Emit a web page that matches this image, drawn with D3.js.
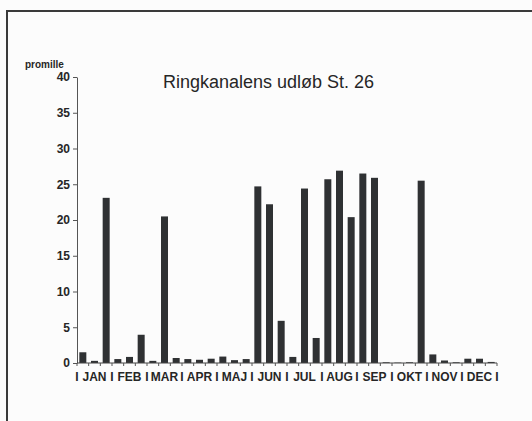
<!DOCTYPE html>
<html>
<head>
<meta charset="utf-8">
<script src="https://cdn.jsdelivr.net/npm/d3@7"></script>
<style>
	html, body {margin: 0; padding: 0; background: #fcfcfc;}
	svg {display: block;}
	text {font-family: "Liberation Sans", Arial, Helvetica, sans-serif; fill: #262626;}
</style>
</head>
<body>
<svg id="chart" width="532" height="421"></svg>
<script>
// three samples per month
const months = ['JAN', 'FEB', 'MAR', 'APR', 'MAJ', 'JUN', 'JUL', 'AUG', 'SEP', 'OKT', 'NOV', 'DEC'];
const salinity = [
	1.5, 0.3, 23.1,
	0.55, 0.85, 3.95,
	0.3, 20.5, 0.7,
	0.55, 0.45, 0.6,
	0.9, 0.4, 0.55,
	24.7, 22.2, 5.9,
	0.85, 24.4, 3.5,
	25.7, 26.9, 20.4,
	26.5, 25.9, 0.1,
	0.05, 0.1, 25.5,
	1.2, 0.35, 0.1,
	0.6, 0.6, 0.15
];
const yTicks = [0, 5, 10, 15, 20, 25, 30, 35, 40];
const title = 'Ringkanalens udløb St. 26';
const unit = 'promille';

const svg = d3.select('#chart');
const plot = {left: 77, right: 497, top: 77, bottom: 363};

// scanned page frame
svg.append('path')
	.attr('d', 'M7,421V11H532')
	.attr('fill', 'none')
	.attr('stroke', '#3a3a3a')
	.attr('stroke-width', 2);

const x = d3.scaleBand()
	.domain(d3.range(salinity.length))
	.range([plot.left, plot.right])
	.paddingInner(0.4)
	.paddingOuter(0.2);

const xMonth = d3.scaleBand()
	.domain(months)
	.range([plot.left, plot.right]);

const y = d3.scaleLinear()
	.domain([0, 40])
	.range([plot.bottom, plot.top]);

// y axis
const yAxis = svg.append('g')
	.attr('transform', `translate(${plot.left},0)`)
	.call(d3.axisLeft(y).tickValues(yTicks).tickSize(4).tickSizeOuter(0).tickPadding(3));
yAxis.select('.domain').attr('stroke', '#555');
yAxis.selectAll('.tick line').attr('stroke', '#555');
yAxis.selectAll('.tick text')
	.attr('font-size', 12)
	.attr('font-weight', 'bold')
	.attr('fill', '#262626')
	.attr('font-family', '"Liberation Sans", Arial, sans-serif');

// bars
svg.append('g')
	.selectAll('rect')
	.data(salinity)
	.join('rect')
	.attr('x', (d, i) => x(i))
	.attr('y', d => y(d))
	.attr('width', x.bandwidth())
	.attr('height', d => y(0) - y(d))
	.attr('fill', '#2f3133');

// x axis line and small slot ticks
svg.append('line')
	.attr('x1', plot.left).attr('x2', plot.right)
	.attr('y1', plot.bottom).attr('y2', plot.bottom)
	.attr('stroke', '#444');
svg.append('g')
	.selectAll('line')
	.data(d3.range(salinity.length + 1))
	.join('line')
	.attr('x1', i => plot.left + i * x.step())
	.attr('x2', i => plot.left + i * x.step())
	.attr('y1', plot.bottom).attr('y2', plot.bottom + 3)
	.attr('stroke', '#555');

// month labels with "I" separators
const labels = svg.append('g')
	.attr('font-size', 12)
	.attr('font-weight', 'bold');
labels.selectAll('text.month')
	.data(months)
	.join('text')
	.attr('class', 'month')
	.attr('x', d => xMonth(d) + xMonth.bandwidth() / 2)
	.attr('y', 381)
	.attr('text-anchor', 'middle')
	.text(d => d);
labels.selectAll('text.sep')
	.data(d3.range(months.length + 1))
	.join('text')
	.attr('class', 'sep')
	.attr('x', i => plot.left + i * xMonth.step())
	.attr('y', 381)
	.attr('text-anchor', 'middle')
	.text('I');

svg.append('text')
	.attr('x', 163)
	.attr('y', 88)
	.attr('font-size', 18)
	.text(title);

svg.append('text')
	.attr('x', 25)
	.attr('y', 68)
	.attr('font-size', 10)
	.attr('font-weight', 'bold')
	.text(unit);
</script>
</body>
</html>
